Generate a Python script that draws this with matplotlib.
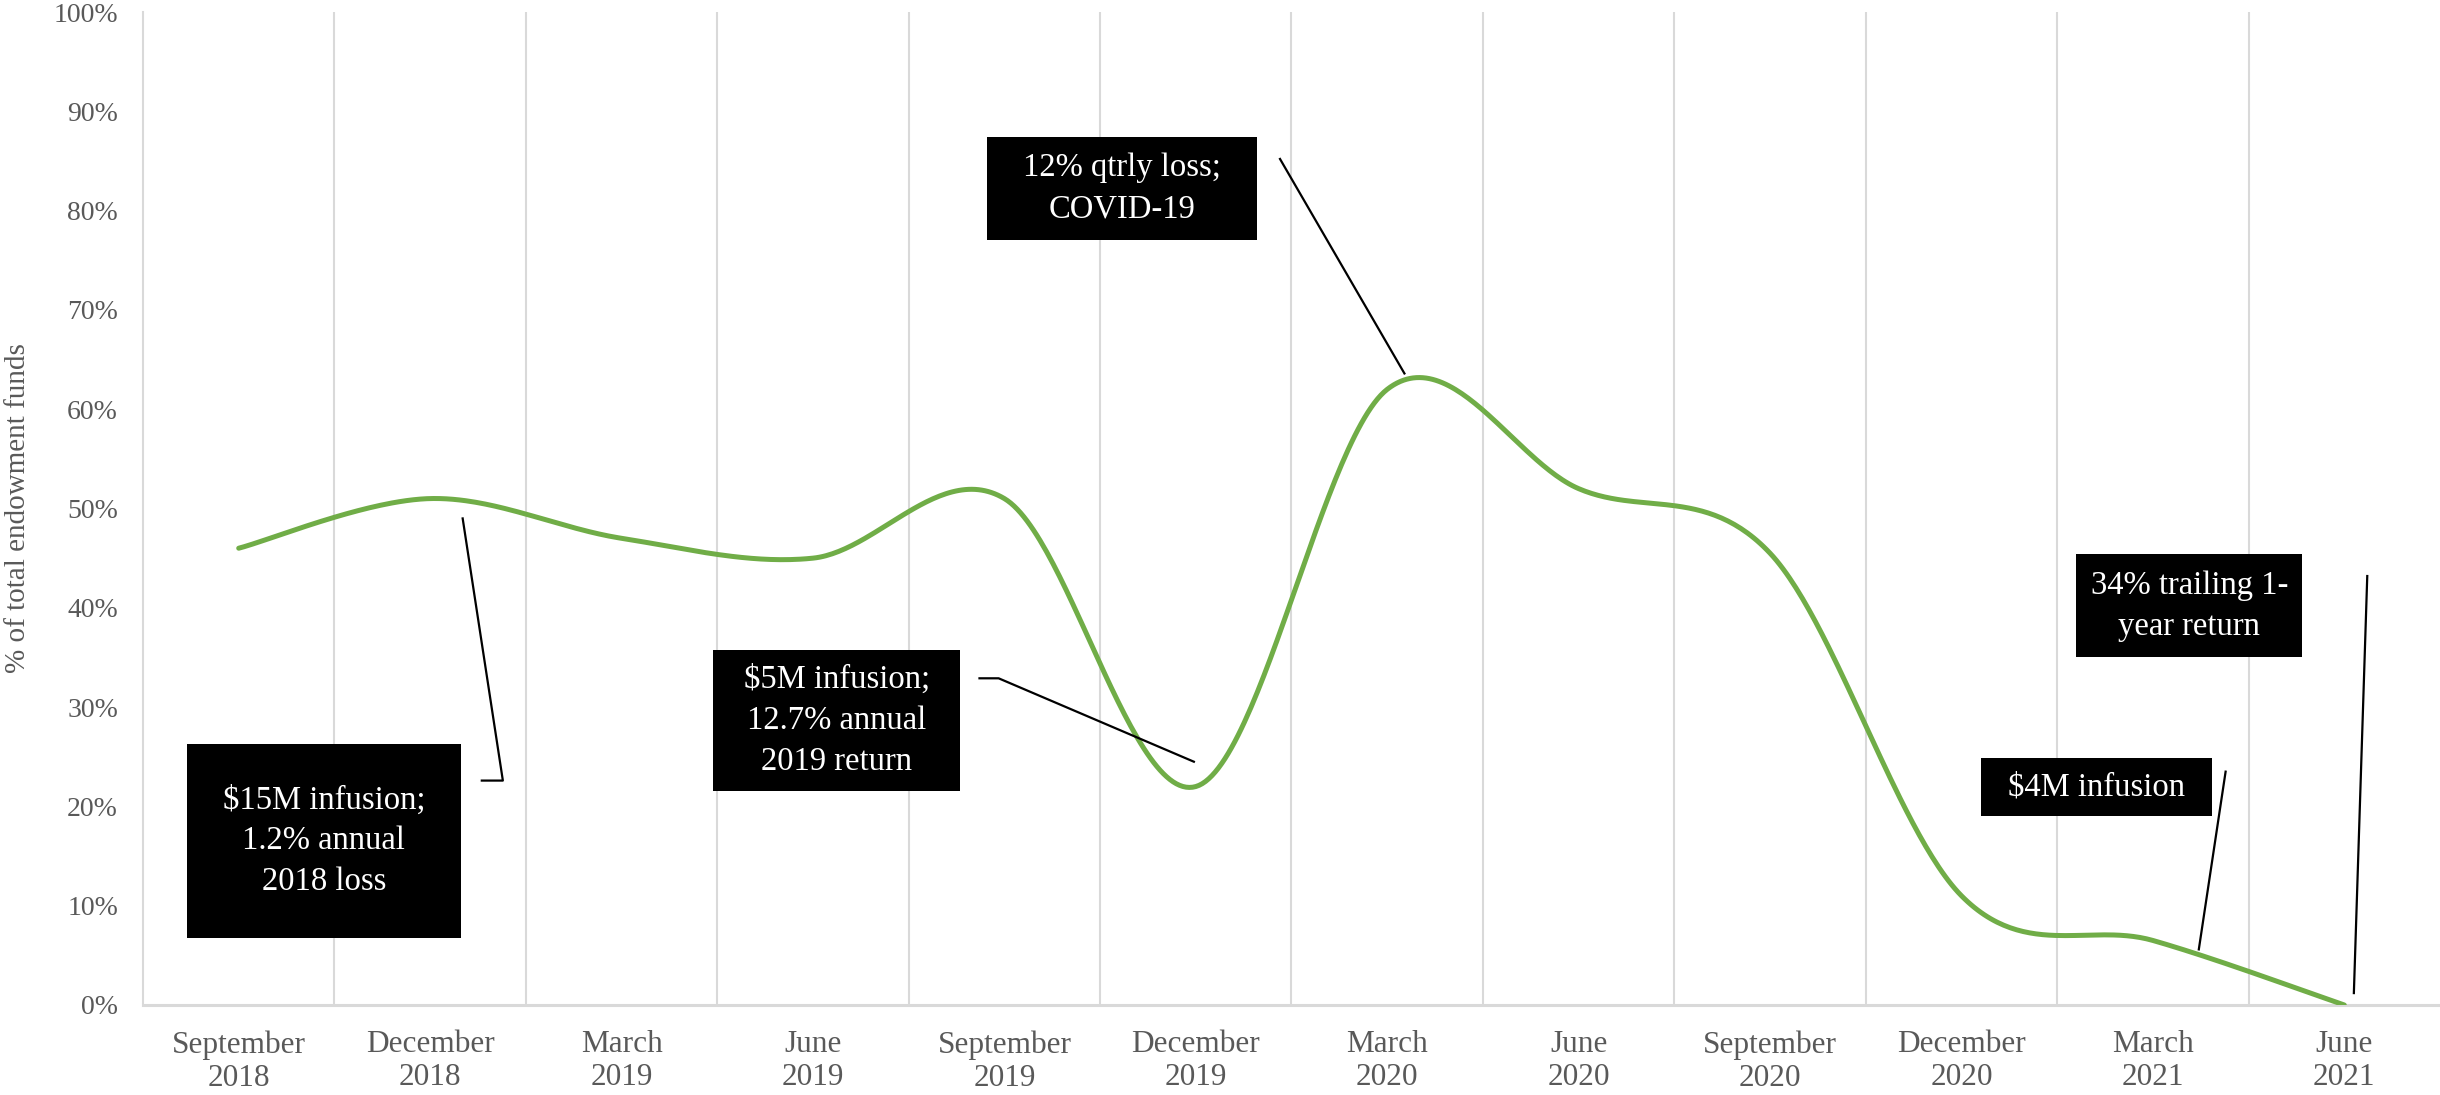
import numpy as np
import matplotlib.pyplot as plt
from matplotlib.patches import Rectangle

plt.rcParams['font.family'] = ['Liberation Serif', 'DejaVu Serif']

quarters = ['September\n2018', 'December\n2018', 'March\n2019', 'June\n2019',
            'September\n2019', 'December\n2019', 'March\n2020', 'June\n2020',
            'September\n2020', 'December\n2020', 'March\n2021', 'June\n2021']
pct_of_endowment = [46, 51, 47, 45, 51, 22, 62, 52, 45.5, 11, 6.5, 0]

# callout text, box extent (x0, x1, y0, y1) and leader path
callouts = [
    ('$15M infusion;\n1.2% annual\n2018 loss', (-0.27, 1.16, 6.7, 26.3),
     [(1.27, 22.6), (1.38, 22.6), (1.17, 49.0)]),
    ('$5M infusion;\n12.7% annual\n2019 return', (2.48, 3.77, 21.6, 35.7),
     [(3.87, 32.9), (3.97, 32.9), (4.99, 24.5)]),
    ('12% qtrly loss;\nCOVID-19', (3.91, 5.32, 77.0, 87.4),
     [(5.44, 85.2), (6.09, 63.6)]),
    ('34% trailing 1-\nyear return', (9.60, 10.78, 35.0, 45.4),
     [(11.12, 43.2), (11.05, 1.2)]),
    ('$4M infusion', (9.10, 10.31, 19.0, 24.9),
     [(10.38, 23.5), (10.24, 5.6)]),
]

GREEN = '#70AD47'
GRID = '#d9d9d9'
LABEL = '#595959'


def smooth(xs, ys, n=60):
    # catmull-rom style bezier, like a spreadsheet "smoothed line"
    p = np.column_stack([xs, ys]).astype(float)
    p = np.vstack([p[0], p, p[-1]])
    out = []
    t = np.linspace(0, 1, n)[:, None]
    for i in range(1, len(p) - 2):
        p0, p3 = p[i], p[i + 1]
        p1 = p0 + (p[i + 1] - p[i - 1]) / 6
        p2 = p3 - (p[i + 2] - p[i]) / 6
        seg = ((1 - t) ** 3) * p0 + 3 * ((1 - t) ** 2) * t * p1 \
            + 3 * (1 - t) * t ** 2 * p2 + t ** 3 * p3
        out.append(seg if i == 1 else seg[1:])
    out = np.vstack(out)
    return out[:, 0], out[:, 1]


fig = plt.figure(figsize=(24.4, 10.95), dpi=100)
ax = fig.add_axes([143 / 2440, 90 / 1095, 1 - 143 / 2440, 993 / 1095])

x = np.arange(len(quarters))
sx, sy = smooth(x, pct_of_endowment)
ax.plot(sx, sy, color=GREEN, lw=3.6, solid_capstyle='round', zorder=3)

for label, (x0, x1, y0, y1), path in callouts:
    ax.add_patch(Rectangle((x0, y0), x1 - x0, y1 - y0, facecolor='black',
                           edgecolor='none', zorder=4))
    ax.text((x0 + x1) / 2, (y0 + y1) / 2, label, color='white', fontsize=23.5,
            ha='center', va='center', linespacing=1.45, zorder=5)
    px, py = zip(*path)
    ax.plot(px, py, color='black', lw=1.6, zorder=5)

ax.set_xlim(-0.5, len(quarters) - 0.5)
ax.set_ylim(0, 100)
ax.set_xticks(x)
ax.set_xticklabels(quarters, fontsize=22.5, color=LABEL, linespacing=1.2)
ax.set_yticks(range(0, 101, 10))
ax.set_yticklabels([f'{v}%' for v in range(0, 101, 10)], fontsize=20, color=LABEL)
ax.tick_params(axis='both', length=0)
ax.tick_params(axis='x', pad=18)
ax.tick_params(axis='y', pad=18)
ax.set_ylabel('% of total endowment funds', fontsize=21, color=LABEL, labelpad=16)

for b in np.arange(0.5, len(quarters) - 1, 1.0):
    ax.axvline(b, color=GRID, lw=1.5, zorder=1)
for s in ['top', 'right']:
    ax.spines[s].set_visible(False)
ax.spines['left'].set_color(GRID)
ax.spines['left'].set_linewidth(1.5)
ax.spines['bottom'].set_color(GRID)
ax.spines['bottom'].set_linewidth(2.2)

fig.savefig('out.png', dpi=100)
